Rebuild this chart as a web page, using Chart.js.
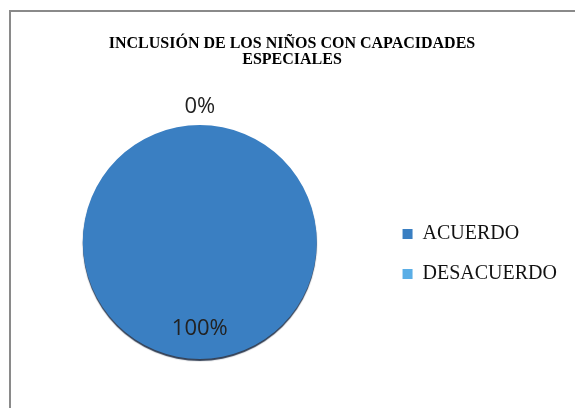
<!DOCTYPE html>
<html>
<head>
<meta charset="utf-8">
<script src="https://cdn.jsdelivr.net/npm/chart.js@4"></script>
<style>
  body { margin: 0; background: #fff; }
  #frame { position: absolute; left: 9px; top: 10px; width: 620px; height: 450px; border: 2px solid #8a8a8a; }
  #wrap { position: absolute; left: 0; top: 0; width: 575px; height: 408px; }
</style>
</head>
<body>
<div id="frame"></div>
<div id="wrap"><canvas id="pieChart"></canvas></div>
<script>
const categories = ["ACUERDO", "DESACUERDO"];
const percentages = [100, 0];
const sliceColors = ["#3a7fc2", "#5baee6"];
const titleLines = ["INCLUSIÓN DE LOS NIÑOS CON CAPACIDADES", "ESPECIALES"];

// draws the "0%" / "100%" labels like the Excel original
const pctLabels = {
	id: "pctLabels",
	afterDatasetsDraw(chart) {
		const ctx = chart.ctx;
		const arcs = chart.getDatasetMeta(0).data;
		ctx.save();
		ctx.font = "22px 'Open Sans', sans-serif";
		ctx.fillStyle = "#222";
		ctx.textAlign = "center";
		ctx.textBaseline = "middle";
		arcs.forEach(function (arc, i) {
			const p = arc.getProps(["x", "y", "startAngle", "endAngle", "outerRadius"], true);
			const mid = (p.startAngle + p.endAngle) / 2;
			const r = percentages[i] === 0 ? p.outerRadius + 18 : p.outerRadius * 0.74;
			ctx.fillText(percentages[i] + "%", p.x + Math.cos(mid) * r, p.y + Math.sin(mid) * r);
		});
		ctx.restore();
	},
};

// dark edge under the pie
const pieShadow = {
	id: "pieShadow",
	beforeDatasetsDraw(chart) {
		const ctx = chart.ctx;
		ctx.save();
		ctx.shadowColor = "rgba(15,30,55,0.85)";
		ctx.shadowBlur = 1;
		ctx.shadowOffsetY = 2;
	},
	afterDatasetsDraw(chart) {
		chart.ctx.restore();
	},
};

const canvapie = document.getElementById("pieChart").getContext("2d");
const myChartpie = new Chart(canvapie, {
	type: "pie",
	data: {
		labels: categories,
		datasets: [
			{
				data: percentages,
				backgroundColor: sliceColors,
				borderWidth: 0,
			},
		],
	},
	options: {
		responsive: true,
		maintainAspectRatio: false,
		animation: false,
		layout: {
			padding: { top: 26, left: 17, right: 8, bottom: 49 },
		},
		plugins: {
			title: {
				display: true,
				text: titleLines,
				color: "#000",
				font: { family: "'Liberation Serif', 'Times New Roman', serif", size: 16, weight: "bold", lineHeight: 1.0 },
				padding: { top: 10, bottom: 57 },
			},
			legend: {
				position: "right",
				fullSize: false,
				title: {
					display: true,
					text: " ",
					font: { size: 10 },
					padding: { top: 6, bottom: 6 },
				},
				labels: {
					color: "#111",
					font: { family: "'Liberation Serif', 'Times New Roman', serif", size: 20 },
					boxWidth: 10,
					boxHeight: 10,
					padding: 20,
				},
			},
			tooltip: { enabled: false },
		},
	},
	plugins: [pieShadow, pctLabels],
});
</script>
</body>
</html>
